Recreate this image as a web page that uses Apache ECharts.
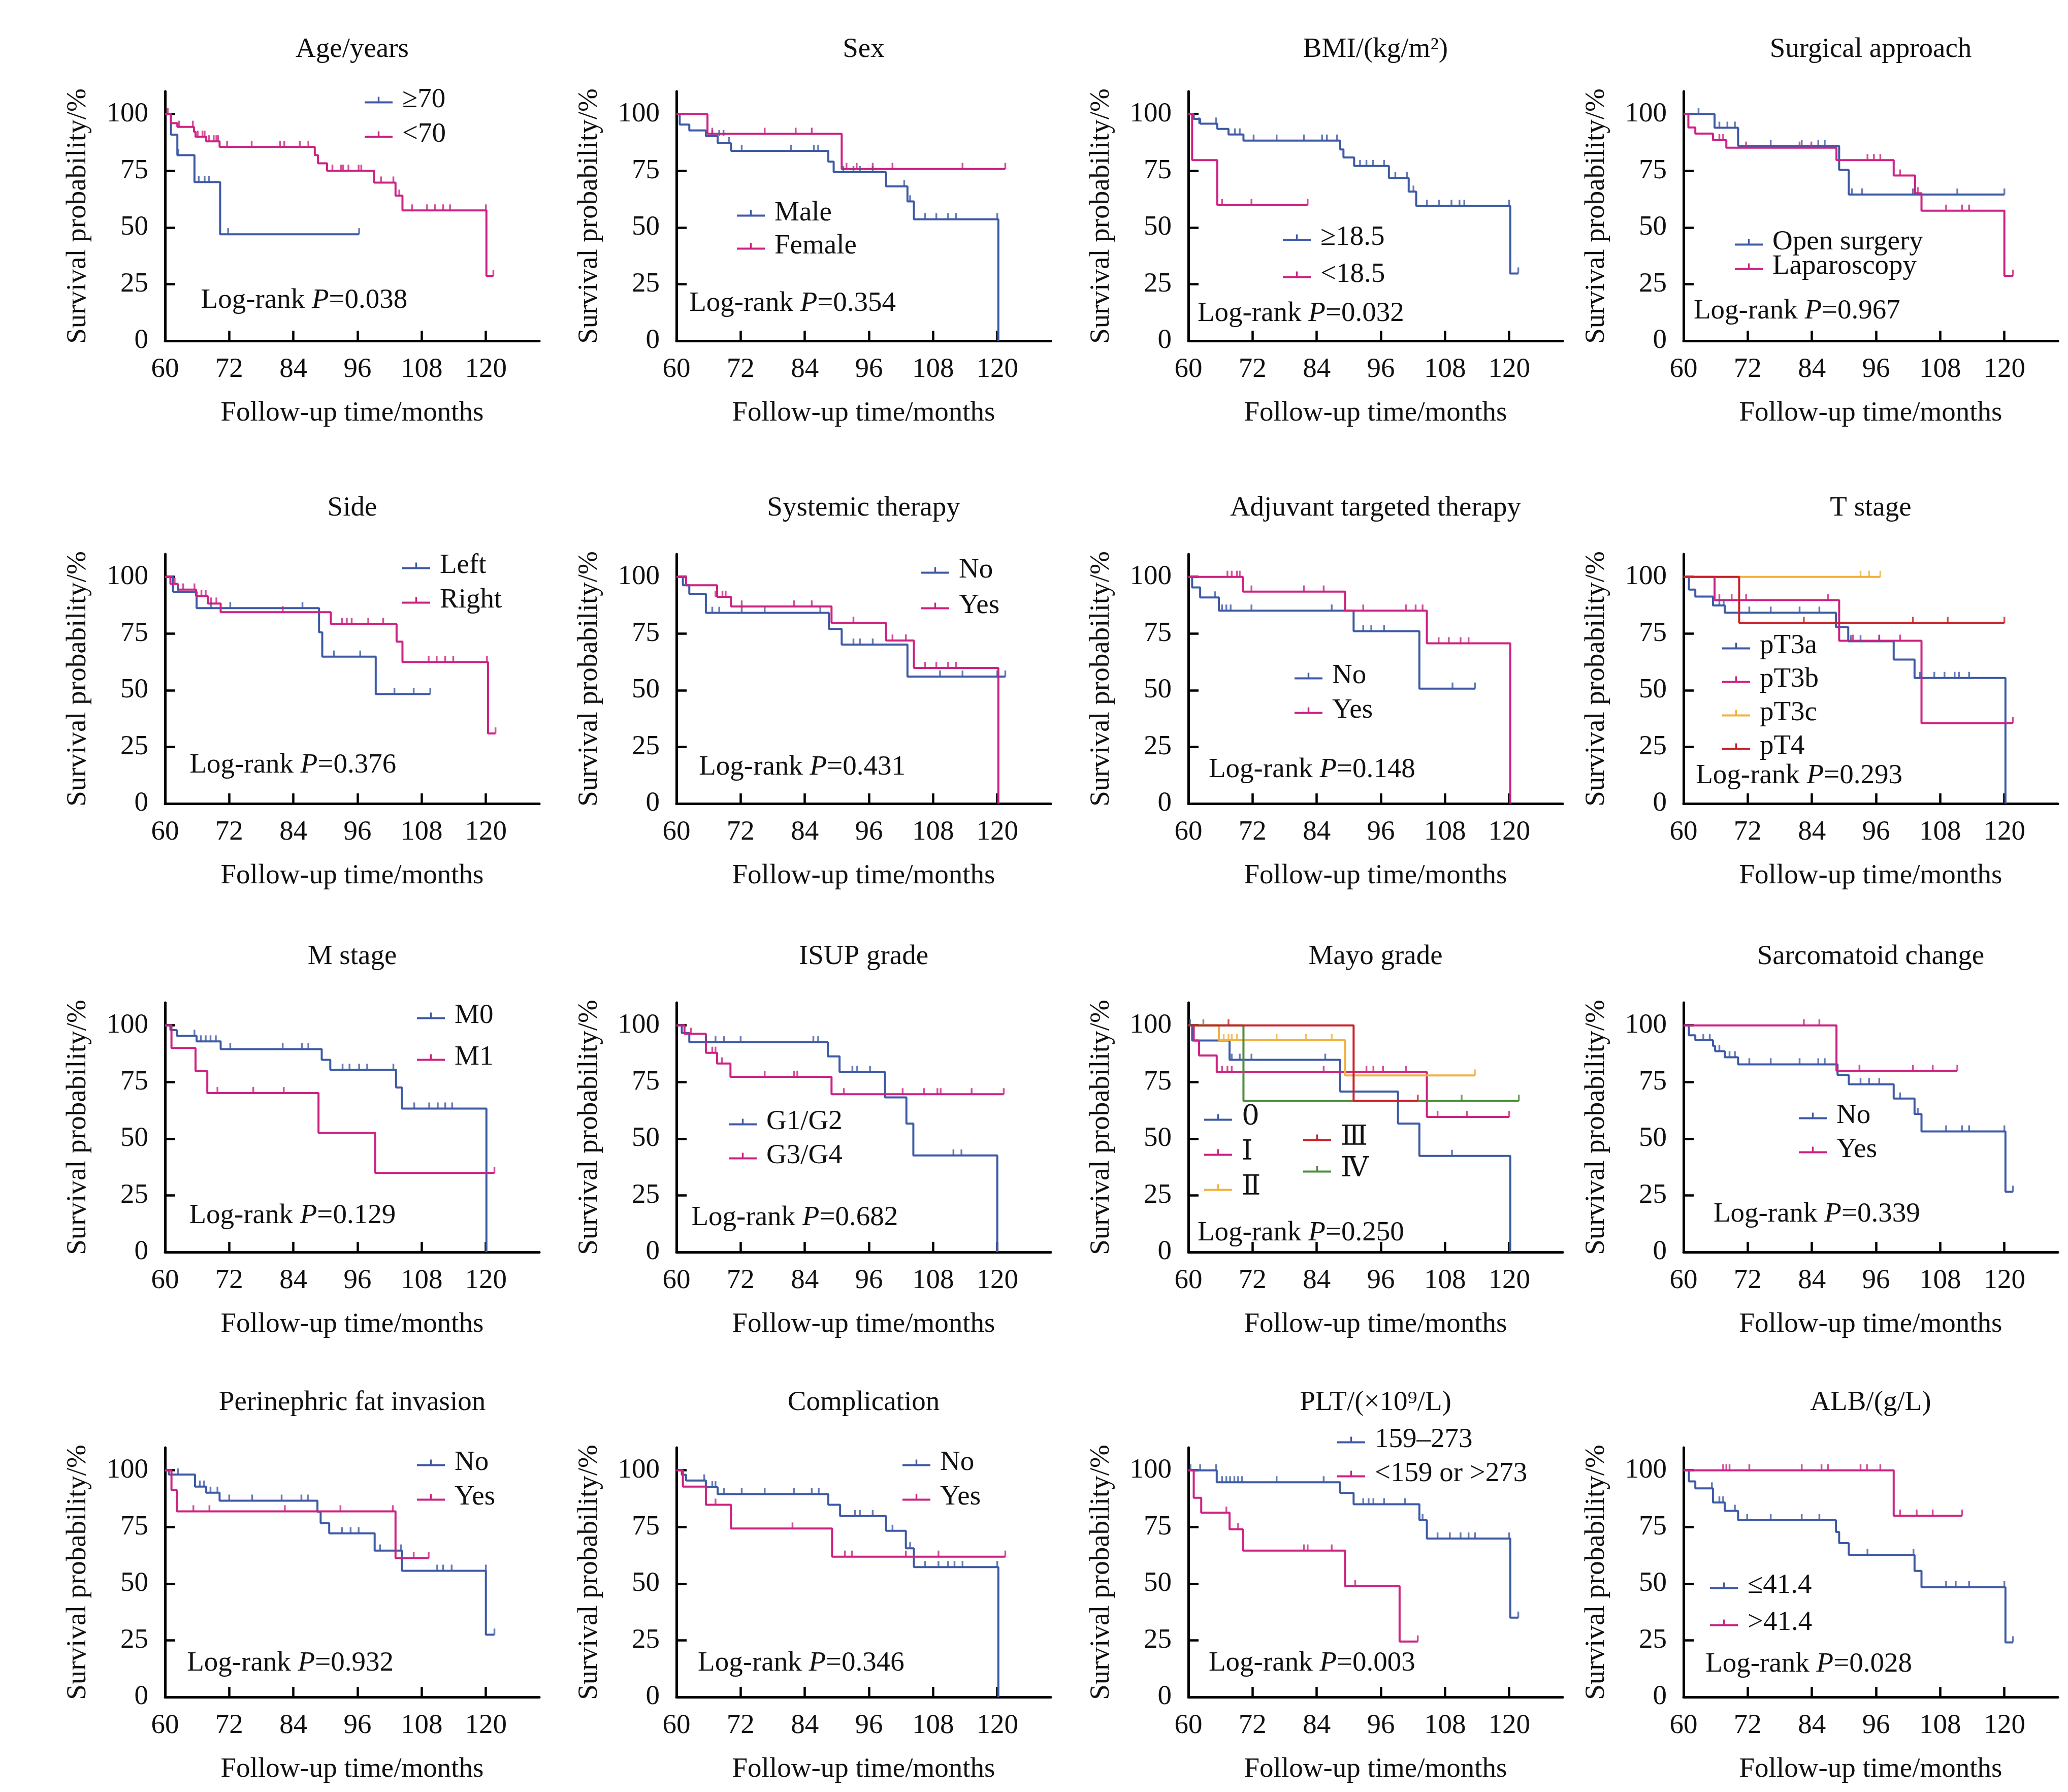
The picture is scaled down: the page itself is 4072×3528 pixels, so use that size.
<!DOCTYPE html>
<html>
<head>
<meta charset="utf-8">
<title>Kaplan-Meier survival by clinical factors</title>
<script src="https://cdn.jsdelivr.net/npm/echarts@6/dist/echarts.min.js"></script>
<style>
html, body { margin: 0; padding: 0; background: #ffffff; }
#chart { width: 4072px; height: 3528px; }
</style>
</head>
<body>
<div id="chart"></div>
<script>
// ---- data: [month, survival %] step points (value after each drop) and censor marks ----
var ageOver70 = [[60,100],[61.1,90.9],[62.3,81.9],[65.5,70.0],[70.3,47.0],[96.3,47.0]];
var ageOver70Cens = [[62.5,81.9],[66.3,70],[67.4,70],[68.2,70],[71.8,47],[96.3,47]];
var ageUnder70 = [[60,100],[61.1,96.0],[62.3,94.4],[65.4,92.2],[65.7,90.0],[67.7,88.0],[70.2,85.5],[88.0,81.9],[88.6,78.3],[90.3,75.0],[99.1,69.8],[103.1,64.0],[104.4,57.5],[120.1,28.6],[121.4,28.6]];
var ageUnder70Cens = [[60.5,100],[62.6,94.4],[65.2,94.4],[66.1,90],[67.0,90],[67.4,90],[68.2,88],[69.1,88],[69.6,88],[69.9,88],[71.6,85.5],[76.2,85.5],[81.5,85.5],[82.3,85.5],[85.2,85.5],[86.8,85.5],[91.3,75],[92.9,75],[93.3,75],[94.3,75],[96.2,75],[96.7,75],[100.4,69.8],[102.7,69.8],[103.8,64],[106.2,57.5],[109,57.5],[110.5,57.5],[112,57.5],[113.3,57.5],[120,57.5],[121.4,28.6]];

var sexMale = [[60,100],[60.6,95.4],[62.4,92.8],[65.5,90.3],[67.7,87.2],[70.2,83.8],[88.4,79.0],[89.4,74.4],[99.2,68.1],[103.2,61.5],[104.4,53.6],[120.2,0]];
var sexMaleCens = [[66.7,90.3],[68.0,90.3],[68.8,90.3],[69.8,87.2],[72.2,83.8],[81.4,83.8],[85.7,83.8],[86.5,83.8],[91.2,74.4],[93.1,74.4],[94.3,74.4],[96.7,74.4],[102.6,68.1],[103.7,61.5],[106.5,53.6],[108.6,53.6],[110.8,53.6],[112.3,53.6],[120,53.6]];
var sexFemale = [[60,100],[65.8,91.3],[90.9,75.8],[121.5,75.8]];
var sexFemaleCens = [[66.7,91.3],[76.5,91.3],[82.3,91.3],[85.3,91.3],[91.8,75.8],[93.7,75.8],[96.7,75.8],[100.4,75.8],[113.5,75.8],[121.5,75.8]];

var bmiHigh = [[60,100],[61.0,97.9],[62.2,95.8],[65.4,93.5],[67.5,91.0],[70.3,88.3],[88.4,84.4],[89.0,80.9],[91.0,77.1],[97.5,71.8],[101.2,65.8],[102.6,59.5],[120.2,29.7],[121.7,29.7]];
var bmiHighCens = [[62.0,95.8],[65.2,95.8],[68.7,91],[69.6,91],[72.2,88.3],[76.5,88.3],[81.6,88.3],[85.0,88.3],[85.9,88.3],[87.8,88.3],[92.1,77.1],[93.3,77.1],[94.5,77.1],[96.6,77.1],[98.7,71.8],[100.9,71.8],[102.1,65.8],[104.6,59.5],[106.9,59.5],[109.2,59.5],[110.7,59.5],[111.6,59.5],[120,59.5],[121.7,29.7]];
var bmiLow = [[60,100],[60.7,79.7],[65.4,59.9],[82.3,59.9]];
var bmiLowCens = [[66.3,59.9],[71.8,59.9],[82.3,59.9]];

var openSurgery = [[60,100],[65.8,94.0],[70.2,86.0],[89.1,75.4],[90.9,64.5],[120,64.5]];
var openSurgeryCens = [[62.8,100],[66.7,94],[68.2,94],[69.6,94],[76.3,86],[82.1,86],[85.2,86],[86.4,86],[91.5,64.5],[93.4,64.5],[102.9,64.5],[111.2,64.5],[120,64.5]];
var laparoscopy = [[60,100],[60.9,94.1],[62.2,91.4],[65.5,88.5],[68.0,85.2],[88.6,79.7],[99.3,72.9],[103.3,65.1],[104.5,57.4],[120,28.7],[121.6,28.7]];
var laparoscopyCens = [[66.7,88.5],[67.4,88.5],[71.7,85.2],[81.7,85.2],[83.9,85.2],[94.4,79.7],[95.6,79.7],[96.8,79.7],[100.5,72.9],[103.8,65.1],[109.1,57.4],[112.1,57.4],[113.4,57.4],[121.6,28.7]];

var sideLeft = [[60,100],[61.5,93.4],[65.9,86.2],[88.8,75.5],[89.4,64.8],[99.4,48.3],[109.6,48.3]];
var sideLeftCens = [[62.4,93.4],[68.6,86.2],[72.2,86.2],[85.7,86.2],[91.6,64.8],[96.5,64.8],[102.9,48.3],[106.5,48.3],[109.6,48.3]];
var sideRight = [[60,100],[61.0,96.9],[62.4,94.4],[65.8,91.5],[68.0,88.2],[70.4,84.4],[91.0,79.2],[103.3,71.4],[104.4,62.4],[120.4,30.9],[121.8,30.9]];
var sideRightCens = [[61.8,96.9],[63.4,94.4],[65.5,94.4],[66.8,91.5],[67.6,91.5],[68.6,88.2],[69.6,88.2],[82.0,84.4],[93.1,79.2],[94.0,79.2],[94.9,79.2],[98.0,79.2],[100.8,79.2],[109.3,62.4],[110.8,62.4],[112.4,62.4],[113.9,62.4],[120.2,62.4],[121.8,30.9]];

var systemicNo = [[60,100],[61.2,96.3],[62.4,92.5],[65.5,84.1],[88.5,77.0],[90.9,70.1],[103.2,56.0],[121.5,56.0]];
var systemicNoCens = [[66.7,84.1],[68.0,84.1],[72.2,84.1],[76.5,84.1],[86.9,84.1],[93.1,70.1],[94.3,70.1],[96.7,70.1],[109.3,56],[113.5,56],[120,56],[121.5,56]];
var systemicYes = [[60,100],[61.8,96.3],[67.6,91.2],[70.2,86.9],[89.0,79.7],[99.2,71.9],[104.4,59.8],[120.2,0]];
var systemicYesCens = [[67.3,91.2],[68.6,91.2],[69.2,91.2],[72.2,86.9],[82.0,86.9],[85.3,86.9],[93.1,79.7],[100.4,71.9],[102.9,71.9],[106.5,59.8],[108.6,59.8],[110.8,59.8],[112.3,59.8]];

var targetedNo = [[60,100],[60.7,95.3],[62.2,90.9],[65.7,85.1],[90.9,76.0],[103.2,50.7],[113.6,50.7]];
var targetedNoCens = [[65.0,90.9],[66.3,85.1],[67.1,85.1],[67.9,85.1],[71.8,85.1],[86.8,85.1],[92.7,76],[94.2,76],[96.6,76],[109.4,50.7],[113.6,50.7]];
var targetedYes = [[60,100],[70.2,93.5],[89.3,85.1],[104.6,70.7],[120.2,0]];
var targetedYesCens = [[67.3,100],[68.1,100],[69.1,100],[69.6,100],[71.8,93.5],[81.6,93.5],[85.3,93.5],[92.7,85.1],[100.7,85.1],[102.5,85.1],[103.8,85.1],[106.8,70.7],[108.7,70.7],[110.9,70.7],[112.4,70.7]];

var pT3a = [[60,100],[61.0,94.4],[62.2,91.3],[65.5,87.4],[67.7,84.2],[88.5,77.8],[90.8,71.6],[99.3,63.5],[103.2,55.4],[120.2,0]];
var pT3aCens = [[66.7,87.4],[67.5,87.4],[72.3,84.2],[76.3,84.2],[81.7,84.2],[85.4,84.2],[91.3,71.6],[93.1,71.6],[96.6,71.6],[104.2,55.4],[106.9,55.4],[108.8,55.4],[110.7,55.4],[111.5,55.4],[113.4,55.4]];
var pT3b = [[60,100],[65.8,89.7],[89.1,71.8],[104.5,35.4],[121.6,35.4]];
var pT3bCens = [[66.7,89.7],[69.0,89.7],[71.7,89.7],[87.0,89.7],[91.7,71.8],[96.6,71.8],[100.5,71.8],[121.6,35.4]];
var pT3c = [[60,100],[96.8,100]];
var pT3cCens = [[93.1,100],[94.7,100],[96.8,100]];
var pT4 = [[60,100],[70.4,79.7],[120,79.7]];
var pT4Cens = [[82.5,79.7],[102.9,79.7],[109.4,79.7],[120,79.7]];

var stageM0 = [[60,100],[61.0,97.9],[62.2,95.4],[65.9,92.9],[70.4,89.5],[89.3,84.8],[90.9,80.4],[103.2,72.6],[104.3,63.3],[120.1,0]];
var stageM0Cens = [[65.5,95.4],[66.7,92.9],[67.6,92.9],[68.5,92.9],[69.5,92.9],[72.2,89.5],[82.0,89.5],[85.6,89.5],[86.8,89.5],[93.2,80.4],[94.5,80.4],[96.3,80.4],[97.8,80.4],[102.7,80.4],[106.6,63.3],[109.4,63.3],[111.0,63.3],[112.4,63.3],[113.7,63.3]];
var stageM1 = [[60,100],[61.2,90.0],[65.7,79.8],[67.9,70.1],[88.7,52.6],[99.3,34.9],[121.6,34.9]];
var stageM1Cens = [[69.8,70.1],[76.5,70.1],[82.2,70.1],[121.6,34.9]];

var isupLow = [[60,100],[61.0,96.6],[62.4,92.5],[88.3,86.3],[90.5,79.4],[99.0,68.2],[103.0,56.7],[104.3,42.6],[120,0]];
var isupLowCens = [[65.5,92.5],[67.3,92.5],[68.9,92.5],[72.0,92.5],[85.6,92.5],[86.5,92.5],[92.9,79.4],[93.8,79.4],[96.2,79.4],[111.8,42.6],[113.3,42.6]];
var isupHigh = [[60,100],[61.5,96.3],[65.5,87.9],[67.6,83.2],[70.1,77.3],[89.0,69.6],[121.2,69.6]];
var isupHighCens = [[62.7,96.3],[66.7,87.9],[67.3,87.9],[68.5,83.2],[76.5,77.3],[82.0,77.3],[82.6,77.3],[91.3,69.6],[102.3,69.6],[106.3,69.6],[108.8,69.6],[109.4,69.6],[115.2,69.6],[121.2,69.6]];

var mayo0 = [[60,100],[60.7,93.3],[67.7,84.8],[88.4,70.8],[99.2,56.7],[103.2,42.4],[120.2,0]];
var mayo0Cens = [[60.3,100],[68.1,84.8],[69.6,84.8],[71.8,84.8],[85.6,84.8],[109.3,42.4]];
var mayo1 = [[60,100],[61.0,93.3],[62.0,86.7],[65.3,79.4],[104.6,59.6],[120,59.6]];
var mayo1Cens = [[66.3,79.4],[67.3,79.4],[68.1,79.4],[85.3,79.4],[93.3,79.4],[94.6,79.4],[96.4,79.4],[100.7,79.4],[106.6,59.6],[112.1,59.6],[120,59.6]];
var mayo2 = [[60,100],[65.7,93.5],[89.3,77.9],[113.6,77.9]];
var mayo2Cens = [[66.6,93.5],[67.5,93.5],[68.1,93.5],[69.1,93.5],[76.5,93.5],[82.0,93.5],[86.8,93.5],[113.6,77.9]];
var mayo3 = [[60,100],[90.9,66.7],[102.9,66.7]];
var mayo3Cens = [[67.5,100],[102.9,66.7]];
var mayo4 = [[60,100],[70.3,66.7],[121.8,66.7]];
var mayo4Cens = [[62.8,100],[111.1,66.7],[121.8,66.7]];

var sarcNo = [[60,100],[61.0,95.6],[62.2,93.4],[65.5,90.9],[65.9,88.6],[67.7,85.9],[70.2,82.8],[88.8,78.1],[90.9,74.0],[99.3,67.7],[103.2,60.9],[104.5,53.2],[120.2,26.6],[121.6,26.6]];
var sarcNoCens = [[63.7,93.4],[64.9,93.4],[66.7,88.6],[68.6,85.9],[69.6,85.9],[72.3,82.8],[76.3,82.8],[81.7,82.8],[85.2,82.8],[86.4,82.8],[93.1,74],[94.7,74],[96.6,74],[100.5,67.7],[103.8,60.9],[109.1,53.2],[112.1,53.2],[113.4,53.2],[120,53.2],[121.6,26.6]];
var sarcYes = [[60,100],[88.6,79.9],[111.2,79.9]];
var sarcYesCens = [[82.5,100],[85.4,100],[92.9,79.9],[102.9,79.9],[106.6,79.9],[111.2,79.9]];

var fatNo = [[60,100],[60.7,98.1],[65.6,92.8],[67.7,90.1],[70.2,86.6],[88.5,81.7],[89.1,76.7],[90.7,72.2],[99.2,64.6],[104.3,55.7],[120,27.5],[121.6,27.5]];
var fatNoCens = [[62.4,98.1],[66.5,92.8],[67.3,92.8],[68.5,90.1],[69.8,90.1],[72.0,86.6],[76.3,86.6],[81.8,86.6],[85.5,86.6],[86.7,86.6],[93.1,72.2],[94.7,72.2],[96.2,72.2],[100.2,64.6],[104.1,64.6],[110.9,55.7],[112.0,55.7],[113.6,55.7],[120,55.7],[121.6,27.5]];
var fatYes = [[60,100],[61.2,91.3],[62.2,81.9],[103.1,61.3],[109.3,61.3]];
var fatYesCens = [[65.3,81.9],[68.3,81.9],[82.4,81.9],[92.8,81.9],[102.6,81.9],[106.5,61.3],[109.3,61.3]];

var complNo = [[60,100],[61.0,98.0],[61.8,95.5],[65.5,92.5],[67.7,89.5],[88.4,84.8],[90.6,79.8],[99.2,73.3],[102.9,65.6],[104.4,57.3],[120.2,0]];
var complNoCens = [[65.2,95.5],[66.7,92.5],[67.3,92.5],[68.9,89.5],[72.2,89.5],[76.5,89.5],[82.0,89.5],[85.3,89.5],[86.6,89.5],[93.4,79.8],[94.3,79.8],[96.7,79.8],[100.4,73.3],[103.7,65.6],[106.5,57.3],[109.0,57.3],[110.8,57.3],[112.0,57.3],[113.5,57.3],[120,57.3]];
var complYes = [[60,100],[61.2,92.8],[65.5,84.8],[70.2,74.3],[89.1,61.9],[121.5,61.9]];
var complYesCens = [[67.3,84.8],[81.7,74.3],[91.5,61.9],[92.8,61.9],[102.9,61.9],[109.0,61.9],[121.5,61.9]];

var pltMid = [[60,100],[65.3,94.7],[88.4,90.0],[90.9,85.0],[103.2,78.0],[104.6,69.9],[120.2,35.0],[121.7,35.0]];
var pltMidCens = [[60.4,100],[62.2,100],[65.2,100],[66.3,94.7],[67.1,94.7],[67.8,94.7],[68.6,94.7],[69.3,94.7],[70.0,94.7],[76.5,94.7],[85.3,94.7],[92.7,85],[93.7,85],[94.6,85],[96.6,85],[100.5,85],[103.8,78],[106.6,69.9],[108.9,69.9],[110.9,69.9],[112.4,69.9],[113.6,69.9],[120,69.9],[121.7,35]];
var pltOut = [[60,100],[61.0,87.9],[62.4,81.3],[67.7,74.0],[70.2,64.6],[89.3,48.9],[99.5,24.5],[102.9,24.5]];
var pltOutCens = [[67.1,81.3],[69.3,74],[81.6,64.6],[82.3,64.6],[86.8,64.6],[91.2,48.9],[102.9,24.5]];

var albLow = [[60,100],[61.0,95.1],[62.2,92.0],[65.5,85.8],[67.7,82.1],[70.2,78.0],[88.5,72.8],[89.1,67.9],[90.9,62.7],[103.2,55.6],[104.5,48.4],[120.2,24.1],[121.6,24.1]];
var albLowCens = [[65.3,92.0],[66.7,85.8],[67.4,85.8],[69.6,82.1],[71.9,78],[76.3,78],[82.1,78],[85.4,78],[94.4,62.7],[103.0,62.7],[109.1,48.4],[110.9,48.4],[113.4,48.4],[120,48.4],[121.6,24.1]];
var albHigh = [[60,100],[99.3,80.0],[112.1,80.0]];
var albHighCens = [[67.4,100],[68.0,100],[68.6,100],[72.3,100],[82.1,100],[85.8,100],[87.0,100],[93.1,100],[94.3,100],[96.8,100],[100.5,80],[103.6,80],[106.6,80],[112.1,80]];

var panelTitles = ['Age/years', 'Sex', 'BMI/(kg/m\u00b2)', 'Surgical approach',
    'Side', 'Systemic therapy', 'Adjuvant targeted therapy', 'T stage',
    'M stage', 'ISUP grade', 'Mayo grade', 'Sarcomatoid change',
    'Perinephric fat invasion', 'Complication', 'PLT/(\u00d710\u2079/L)', 'ALB/(g/L)'];
var logRankP = ['0.038', '0.354', '0.032', '0.967', '0.376', '0.431', '0.148', '0.293',
    '0.129', '0.682', '0.250', '0.339', '0.932', '0.346', '0.003', '0.028'];
var xTicks = [60, 72, 84, 96, 108, 120];
var yTicks = [0, 25, 50, 75, 100];

// ---- styles / layout ----
var BLUE = '#3d5aa6', PINK = '#cd2283', ORANGE = '#f2b13c', RED = '#c9222b', GREEN = '#4d8b3b';
var FONT = '"Liberation Serif", "DejaVu Serif", "Times New Roman", serif';
var INK = '#111111';
var FS = 55;
var colLeft = [325, 1332, 2340, 3315];
var rowTop = [180, 1091, 1974, 2850];
var titleY = [98, 1001, 1884, 2762];
var plotW = 737, plotH = 491;
var ICON = 'path://M0,9H55V13H0Z M25.8,0H29.2V9H25.8Z';

var panels = [
    { curves: [['\u226570', BLUE, ageOver70, ageOver70Cens], ['<70', PINK, ageUnder70, ageUnder70Cens]],
      legends: [[718, 197, 68, ['\u226570', '<70']]], logPos: [66.7, 17.9] },
    { curves: [['Male', BLUE, sexMale, sexMaleCens], ['Female', PINK, sexFemale, sexFemaleCens]],
      legends: [[1451, 420, 65, ['Male', 'Female']]], logPos: [62.4, 16.5] },
    { curves: [['\u226518.5', BLUE, bmiHigh, bmiHighCens], ['<18.5', PINK, bmiLow, bmiLowCens]],
      legends: [[2526, 468, 73, ['\u226518.5', '<18.5']]], logPos: [61.7, 12] },
    { curves: [['Open surgery', BLUE, openSurgery, openSurgeryCens], ['Laparoscopy', PINK, laparoscopy, laparoscopyCens]],
      legends: [[3416, 477, 48, ['Open surgery', 'Laparoscopy']]], logPos: [61.9, 13] },
    { curves: [['Left', BLUE, sideLeft, sideLeftCens], ['Right', PINK, sideRight, sideRightCens]],
      legends: [[792, 1114, 68, ['Left', 'Right']]], logPos: [64.6, 16.8] },
    { curves: [['No', BLUE, systemicNo, systemicNoCens], ['Yes', PINK, systemicYes, systemicYesCens]],
      legends: [[1814, 1123, 70, ['No', 'Yes']]], logPos: [64.2, 15.9] },
    { curves: [['No', BLUE, targetedNo, targetedNoCens], ['Yes', PINK, targetedYes, targetedYesCens]],
      legends: [[2549, 1331, 68, ['No', 'Yes']]], logPos: [63.8, 14.8] },
    { curves: [['pT3a', BLUE, pT3a, pT3aCens], ['pT3b', PINK, pT3b, pT3bCens], ['pT3c', ORANGE, pT3c, pT3cCens], ['pT4', RED, pT4, pT4Cens]],
      legends: [[3391, 1272, 66, ['pT3a', 'pT3b', 'pT3c', 'pT4']]], logPos: [62.3, 12.1] },
    { curves: [['M0', BLUE, stageM0, stageM0Cens], ['M1', PINK, stageM1, stageM1Cens]],
      legends: [[821, 2000, 82, ['M0', 'M1']]], logPos: [64.5, 15.9] },
    { curves: [['G1/G2', BLUE, isupLow, isupLowCens], ['G3/G4', PINK, isupHigh, isupHighCens]],
      legends: [[1435, 2209, 67, ['G1/G2', 'G3/G4']]], logPos: [62.8, 15.2] },
    { curves: [['0', BLUE, mayo0, mayo0Cens], ['\u2160', PINK, mayo1, mayo1Cens], ['\u2161', ORANGE, mayo2, mayo2Cens], ['\u2163', GREEN, mayo4, mayo4Cens], ['\u2162', RED, mayo3, mayo3Cens]],
      legends: [[2371, 2200, 69, ['0', '\u2160', '\u2161']], [2566, 2240, 62, ['\u2162', '\u2163']]], logPos: [61.7, 8.3],
      legendFont: '"DejaVu Serif", "Liberation Serif", serif' },
    { curves: [['No', BLUE, sarcNo, sarcNoCens], ['Yes', PINK, sarcYes, sarcYesCens]],
      legends: [[3542, 2197, 67, ['No', 'Yes']]], logPos: [65.6, 16.6] },
    { curves: [['No', BLUE, fatNo, fatNoCens], ['Yes', PINK, fatYes, fatYesCens]],
      legends: [[821, 2880, 68, ['No', 'Yes']]], logPos: [64.1, 14.8] },
    { curves: [['No', BLUE, complNo, complNoCens], ['Yes', PINK, complYes, complYesCens]],
      legends: [[1777, 2880, 68, ['No', 'Yes']]], logPos: [64.0, 14.8] },
    { curves: [['159\u2013273', BLUE, pltMid, pltMidCens], ['<159 or >273', PINK, pltOut, pltOutCens]],
      legends: [[2633, 2835, 67, ['159\u2013273', '<159 or >273']]], logPos: [63.8, 14.8] },
    { curves: [['\u226441.4', BLUE, albLow, albLowCens], ['>41.4', PINK, albHigh, albHighCens]],
      legends: [[3367, 3122, 73, ['\u226441.4', '>41.4']]], logPos: [64.1, 14.5] }
];

var grids = [], xAxes = [], yAxes = [], series = [], legends = [], graphics = [];

panels.forEach(function (p, i) {
    var col = i % 4, row = Math.floor(i / 4);
    var left = colLeft[col], top = rowTop[row];

    grids.push({ left: left, top: top, width: plotW, height: plotH, containLabel: false, outerBoundsMode: 'none' });

    xAxes.push({
        type: 'value', gridIndex: i, min: 60, max: 130, interval: 12,
        name: 'Follow-up time/months', nameLocation: 'middle', nameGap: 115,
        nameTextStyle: { fontSize: FS, fontFamily: FONT, color: INK },
        axisLine: { lineStyle: { color: '#000', width: 5 } },
        axisTick: { inside: true, length: 20, customValues: xTicks, lineStyle: { color: '#000', width: 4.5 } },
        axisLabel: { margin: 29, fontSize: FS, fontFamily: FONT, color: INK, customValues: xTicks },
        splitLine: { show: false }
    });
    yAxes.push({
        type: 'value', gridIndex: i, min: 0, max: 110, interval: 25,
        name: 'Survival probability/%', nameLocation: 'middle', nameGap: 144,
        nameTextStyle: { fontSize: FS, fontFamily: FONT, color: INK },
        axisLine: { show: true, lineStyle: { color: '#000', width: 5 } },
        axisTick: { show: true, inside: true, length: 20, customValues: yTicks, lineStyle: { color: '#000', width: 4.5 } },
        axisLabel: { margin: 33, fontSize: FS, fontFamily: FONT, color: INK, customValues: yTicks },
        splitLine: { show: false }
    });

    p.curves.forEach(function (c) {
        series.push({
            type: 'line', name: c[0], xAxisIndex: i, yAxisIndex: i, data: c[2],
            step: 'end', showSymbol: false, symbol: 'none', silent: true, z: 2,
            lineStyle: { color: c[1], width: 4 }, itemStyle: { color: c[1] }
        });
        series.push({
            type: 'scatter', name: c[0] + ' censored', xAxisIndex: i, yAxisIndex: i, data: c[3],
            symbol: 'rect', symbolSize: [3.5, 12], symbolOffset: [0, -6], silent: true, z: 3,
            itemStyle: { color: c[1] }
        });
    });

    series.push({
        type: 'scatter', name: 'logrank' + i, xAxisIndex: i, yAxisIndex: i,
        data: [p.logPos], symbolSize: 0, silent: true, z: 4,
        itemStyle: { color: INK, opacity: 1 },
        label: {
            show: true, position: 'right', distance: 0, color: INK, opacity: 1,
            fontSize: FS, fontFamily: FONT,
            formatter: '{a|Log-rank }{b|P}{a|=' + logRankP[i] + '}',
            rich: {
                a: { fontSize: FS, fontFamily: FONT, color: INK },
                b: { fontSize: FS, fontFamily: FONT, color: INK, fontStyle: 'italic' }
            }
        }
    });

    p.legends.forEach(function (lg) {
        legends.push({
            orient: 'vertical', left: lg[0], top: lg[1] - FS / 2, padding: 0,
            itemGap: lg[2] - FS, itemWidth: 55, itemHeight: 13, icon: ICON,
            selectedMode: false, data: lg[3],
            textStyle: { fontSize: FS, fontFamily: p.legendFont || FONT, color: INK, padding: [0, 0, 0, 14] }
        });
    });

    graphics.push({
        type: 'text', x: left + plotW / 2, y: titleY[row], silent: true,
        style: { text: panelTitles[i], font: FS + 'px ' + FONT, fill: INK, textAlign: 'center', textVerticalAlign: 'middle' }
    });
});

var chart = echarts.init(document.getElementById('chart'), null, { renderer: 'canvas' });
chart.setOption({
    backgroundColor: '#ffffff',
    animation: false,
    textStyle: { fontFamily: FONT },
    grid: grids,
    xAxis: xAxes,
    yAxis: yAxes,
    legend: legends,
    graphic: graphics,
    series: series
});
</script>
</body>
</html>
